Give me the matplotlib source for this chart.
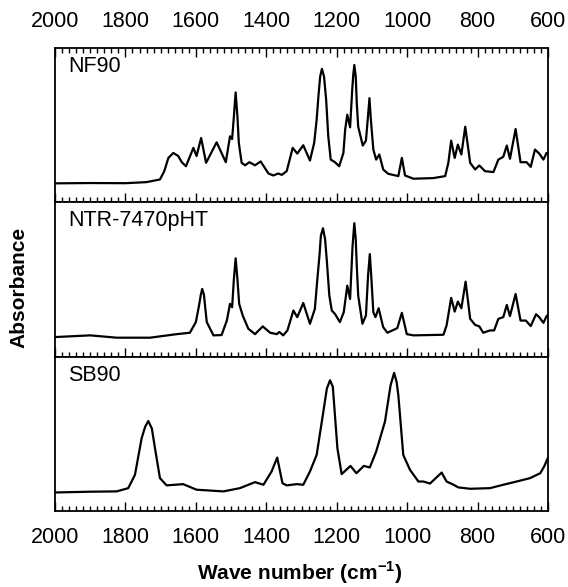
import matplotlib
matplotlib.use("Agg")
import matplotlib.pyplot as plt
from matplotlib.ticker import MultipleLocator

plt.rcParams['font.family'] = ['Liberation Sans', 'DejaVu Sans']
plt.rcParams['mathtext.fontset'] = 'custom'
plt.rcParams['mathtext.rm'] = 'Liberation Sans'
plt.rcParams['mathtext.bf'] = 'Liberation Sans:bold'

# wave numbers (cm-1) and absorbance (arbitrary units)
nf90_wn = [2000, 1900, 1800, 1740, 1702, 1690, 1678, 1664, 1650, 1640, 1628, 1607, 1598,
           1585, 1571, 1541, 1515, 1503, 1497, 1492, 1487, 1482, 1478, 1470, 1460, 1448,
           1432, 1416, 1394, 1380, 1366, 1356, 1342, 1325, 1312, 1295, 1276, 1264, 1257,
           1252, 1247, 1242, 1236, 1230, 1224, 1217, 1205, 1193, 1181, 1176, 1170, 1162,
           1156, 1153, 1150, 1146, 1143, 1139, 1126, 1117, 1112, 1107, 1103, 1096, 1088,
           1079, 1068, 1054, 1025, 1015, 1006, 982, 926, 892, 883, 875, 865, 856, 846,
           835, 821, 807, 795, 779, 755, 741, 727, 717, 708, 692, 678, 661, 649, 637,
           625, 613, 604, 600]
nf90_abs = [0.123, 0.125, 0.124, 0.131, 0.148, 0.2, 0.288, 0.32, 0.3, 0.26, 0.234, 0.353, 0.3,
            0.417, 0.256, 0.389, 0.26, 0.428, 0.41, 0.557, 0.712, 0.557, 0.385, 0.256, 0.24, 0.26,
            0.24, 0.265, 0.187, 0.174, 0.187, 0.178, 0.202, 0.353, 0.316, 0.37, 0.271, 0.385, 0.535,
            0.686, 0.815, 0.865, 0.815, 0.665, 0.428, 0.277, 0.26, 0.234, 0.32, 0.471, 0.568, 0.486,
            0.729, 0.826, 0.89, 0.815, 0.643, 0.49, 0.368, 0.4, 0.535, 0.675, 0.535, 0.342, 0.277,
            0.31, 0.213, 0.185, 0.17, 0.288, 0.174, 0.153, 0.157, 0.17, 0.256, 0.4, 0.288, 0.374, 0.31,
            0.49, 0.256, 0.213, 0.239, 0.202, 0.196, 0.277, 0.295, 0.368, 0.282, 0.475, 0.26, 0.26, 0.23, 0.342,
            0.316, 0.277, 0.32, 0.32]

ntr_wn = [2000, 1900, 1825, 1730, 1654, 1617, 1600, 1591, 1586, 1582, 1577, 1573, 1569, 1550,
          1527, 1512, 1503, 1497, 1492, 1487, 1482, 1477, 1467, 1451, 1432, 1410, 1389, 1370,
          1363, 1352, 1340, 1323, 1312, 1295, 1276, 1262, 1255, 1249, 1245, 1239, 1233, 1228,
          1221, 1214, 1205, 1191, 1180, 1170, 1162, 1155, 1150, 1146, 1143, 1139, 1127, 1117,
          1111, 1106, 1102, 1096, 1090, 1081, 1068, 1056, 1028, 1015, 1001, 982, 897, 888,
          875, 865, 856, 846, 834, 821, 807, 795, 784, 765, 753, 741, 727, 717, 708, 692,
          678, 663, 649, 634, 625, 613, 604, 600]
ntr_abs = [0.127, 0.138, 0.123, 0.123, 0.146, 0.155, 0.224, 0.331, 0.4, 0.439, 0.4, 0.31, 0.224, 0.138,
           0.14, 0.234, 0.342, 0.32, 0.503, 0.637, 0.503, 0.342, 0.267, 0.181, 0.146, 0.196, 0.155, 0.146,
           0.16, 0.138, 0.17, 0.299, 0.256, 0.348, 0.213, 0.31, 0.503, 0.654, 0.783, 0.832, 0.761, 0.62,
           0.396, 0.299, 0.277, 0.224, 0.288, 0.46, 0.374, 0.718, 0.865, 0.761, 0.589, 0.396, 0.213, 0.267,
           0.525, 0.665, 0.525, 0.288, 0.256, 0.314, 0.191, 0.155, 0.185, 0.284, 0.146, 0.138, 0.142, 0.202,
           0.381, 0.292, 0.357, 0.314, 0.486, 0.245, 0.206, 0.196, 0.155, 0.17, 0.17, 0.245, 0.256, 0.335, 0.263, 0.406,
           0.234, 0.234, 0.198, 0.275, 0.256, 0.219, 0.263, 0.27]

sb90_wn = [2000, 1900, 1825, 1792, 1773, 1754, 1744, 1735, 1725, 1716, 1702, 1683, 1636, 1598,
           1522, 1475, 1432, 1408, 1385, 1369, 1354, 1342, 1314, 1295, 1276, 1257, 1238, 1228,
           1219, 1211, 1198, 1186, 1161, 1144, 1123, 1106, 1088, 1063, 1047, 1037, 1030, 1025,
           1011, 992, 968, 954, 935, 902, 888, 868, 855, 821, 765, 727, 689, 651, 622,
           611, 604, 600]
sb90_abs = [0.12, 0.125, 0.127, 0.148, 0.234, 0.471, 0.546, 0.583, 0.535, 0.406, 0.213, 0.166, 0.174, 0.138,
            0.127, 0.148, 0.187, 0.17, 0.256, 0.346, 0.18, 0.166, 0.174, 0.17, 0.256, 0.363, 0.643, 0.793,
            0.847, 0.804, 0.406, 0.239, 0.292, 0.245, 0.292, 0.282, 0.385, 0.579, 0.815, 0.895, 0.837, 0.75,
            0.363, 0.267, 0.191, 0.191, 0.178, 0.249, 0.191, 0.17, 0.153, 0.144, 0.148, 0.17, 0.191, 0.213, 0.245,
            0.288, 0.325, 0.345]

names = ["NF90", "NTR-7470pHT", "SB90"]
spectra = [(nf90_wn, nf90_abs), (ntr_wn, ntr_abs), (sb90_wn, sb90_abs)]

fig = plt.figure(figsize=(5.68, 5.87), dpi=100)

left = 55 / 568
width = 493 / 568
top_px = 48
h_px = (511 - 48) / 3

axes = []
for i, (name, (wn, ab)) in enumerate(zip(names, spectra)):
    bottom_px = top_px + (i + 1) * h_px
    ax = fig.add_axes([left, 1 - bottom_px / 587, width, h_px / 587])
    ax.plot(wn, ab, color='black', lw=1.6, solid_joinstyle='round')
    ax.set_xlim(2000, 600)
    ax.set_ylim(0, 1)
    ax.set_yticks([])
    ax.xaxis.set_major_locator(MultipleLocator(200))
    ax.xaxis.set_minor_locator(MultipleLocator(20))
    ax.tick_params(axis='x', which='both', direction='in', top=(i == 0), bottom=True,
                   labeltop=(i == 0), labelbottom=(i == 2), labelsize=15.5, pad=11.5,
                   width=1.0)
    ax.tick_params(axis='x', which='major', length=6.5)
    ax.tick_params(axis='x', which='minor', length=3.5)
    for s in ax.spines.values():
        s.set_linewidth(1.3)
    ax.text(13 / 493, 0.845, name, transform=ax.transAxes, fontsize=15.5, va='baseline', ha='left')
    axes.append(ax)

fig.text(300 / 568, 1 - 580 / 587, r'Wave number (cm$^{\mathbf{-1}}$)', fontsize=15,
         fontweight='bold', ha='center', va='baseline')
fig.text(19 / 568, 1 - 287 / 587, 'Absorbance', fontsize=15, fontweight='bold',
         rotation=90, ha='center', va='center')

fig.savefig('out.png', dpi=100)
